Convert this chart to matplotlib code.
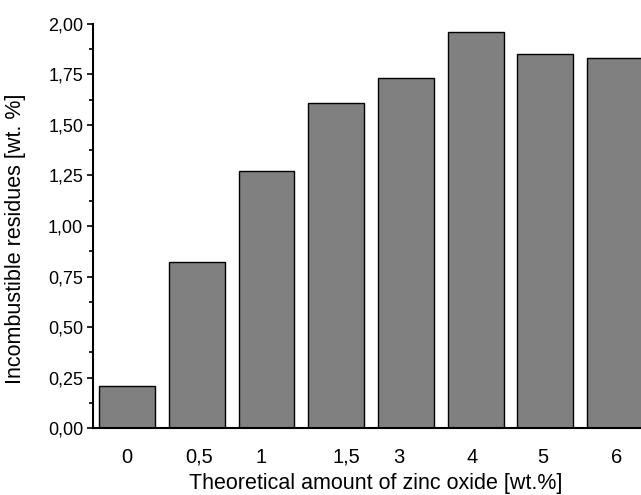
import numpy as np
import matplotlib.pyplot as plt
import matplotlib.transforms as mtransforms
from matplotlib.ticker import MultipleLocator, FuncFormatter

plt.rcParams['font.family'] = ['Liberation Sans', 'DejaVu Sans']

labels = ['0', '0,5', '1', '1,5', '3', '4', '5', '6']
residues = [0.21, 0.82, 1.27, 1.61, 1.73, 1.96, 1.85, 1.83]

fig = plt.figure(figsize=(6.41, 4.95), dpi=100)
# the original is cropped on the right, so the axes runs a bit past the edge
ax = fig.add_axes([0.145, 0.135, 0.883, 0.817])

x = np.arange(len(labels))
ax.bar(x, residues, width=0.8, color='#808080', edgecolor='black', linewidth=1.0)

ax.set_xlim(-0.49, 7.63)
ax.set_ylim(0, 2.0)
ax.set_xticks(x)
ax.set_xticklabels(labels, va='baseline')
ax.tick_params(axis='x', length=0, pad=25, labelsize=14.5)

# the original labels sit a little off the bar centres
shift_px = [0, 2, -5, 10, -7, -3, -3, 2]
for lab, dx in zip(ax.get_xticklabels(), shift_px):
    lab.set_transform(lab.get_transform() + mtransforms.ScaledTranslation(dx / 100, 0, fig.dpi_scale_trans))

ax.yaxis.set_major_locator(MultipleLocator(0.25))
ax.yaxis.set_minor_locator(MultipleLocator(0.125))
ax.yaxis.set_major_formatter(FuncFormatter(lambda v, p: f"{v:.2f}".replace('.', ',')))
ax.tick_params(axis='y', which='major', direction='out', length=4.5, width=1.2, pad=2.5, labelsize=13)
ax.tick_params(axis='y', which='minor', direction='out', length=3, width=1.2)

for s in ['top', 'right']:
    ax.spines[s].set_visible(False)
ax.spines['left'].set_linewidth(1.5)
ax.spines['bottom'].set_linewidth(1.5)

ax.set_xlabel('Theoretical amount of zinc oxide [wt.%]', fontsize=15.5)
ax.xaxis.set_label_coords(0.5, -0.11)
ax.set_ylabel('Incombustible residues [wt. %]', fontsize=15.5)
ax.yaxis.set_label_coords(-0.118, 0.468)

fig.savefig('out.png', dpi=100)
